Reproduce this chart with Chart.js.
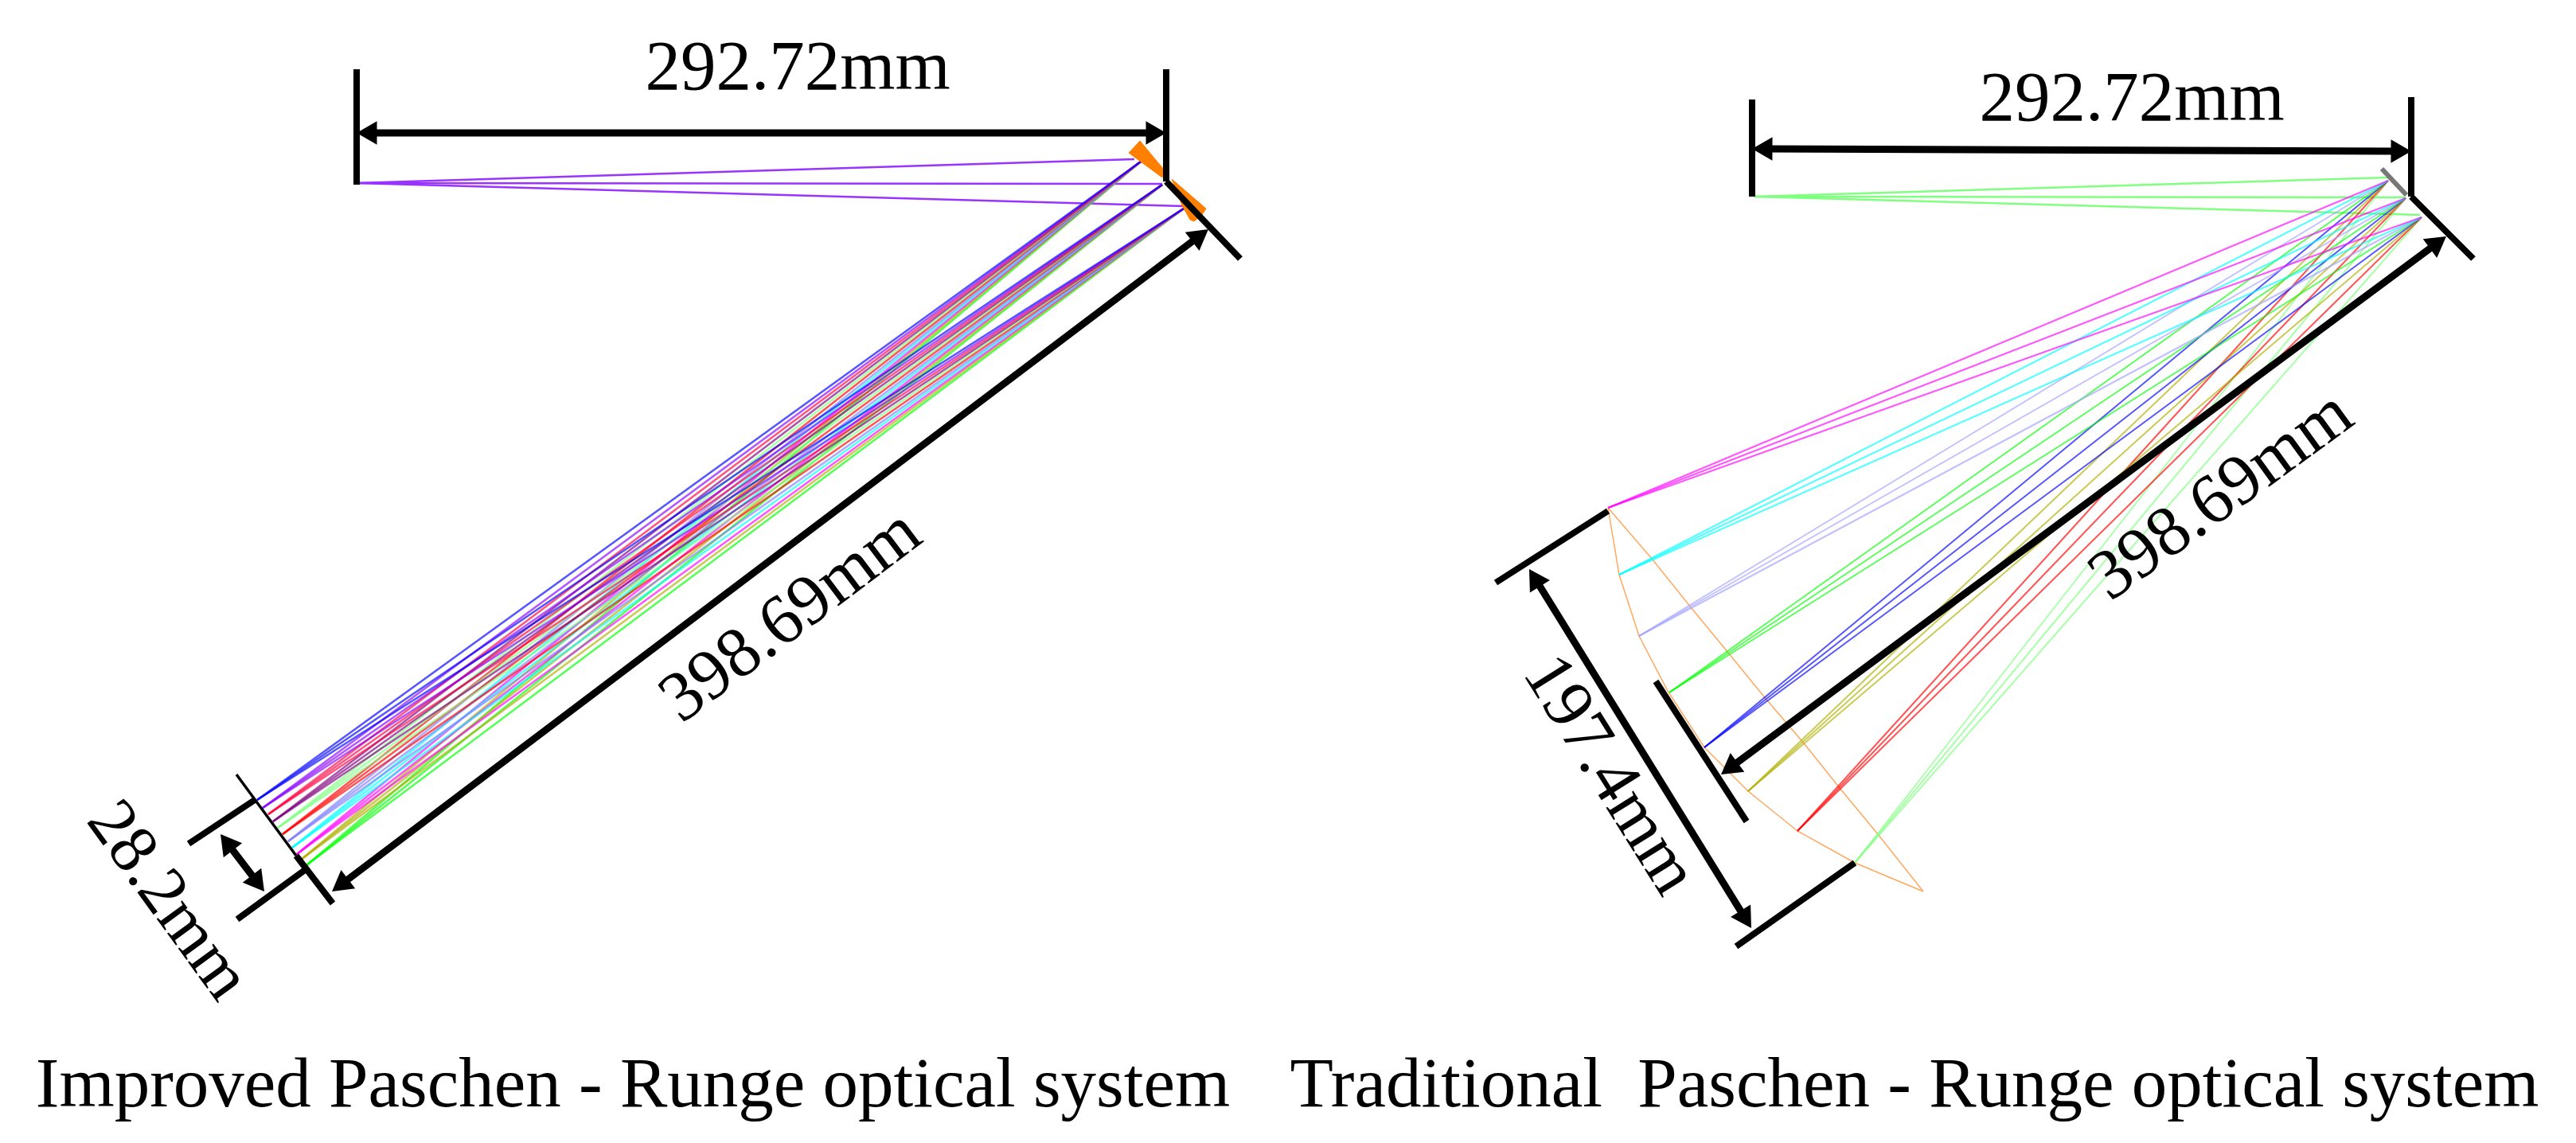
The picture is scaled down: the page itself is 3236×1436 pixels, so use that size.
<!DOCTYPE html>
<html>
<head>
<meta charset="utf-8">
<title>Paschen-Runge optical systems</title>
<script src="https://cdn.jsdelivr.net/npm/chart.js@4"></script>
<style>
  html, body { margin: 0; padding: 0; background: #fff; }
  canvas { display: block; }
</style>
</head>
<body>
<canvas id="chart" width="3236" height="1436"></canvas>
<script>
// Axis range, the picture is drawn in image coordinates
const xRange = [0, 3236];
const yRange = [0, 1436];

// Improved system: rays
const improvedSource = [[448, 230]];
const improvedGrating = [[1425, 200], [1460, 231], [1487, 259]];
const improvedOutTips = [[1433, 203], [1460, 232], [1487, 262]];
const improvedDetector = [
    [323, 1005], [330, 1015], [337, 1023], [343, 1032], [349, 1040], [355, 1048],
    [362, 1057], [367, 1065], [373, 1073], [378, 1080], [385, 1087]
];

// Traditional system: rays
const tradSource = [[2204, 247]];
const tradGrating = [[3000, 223], [3022, 248], [3040, 270]];
const tradOutTips = [[3000, 227], [3022, 249], [3042, 273]];
const tradDetector = [
    [2020, 638], [2034, 722], [2059, 799], [2097, 870],
    [2141, 939], [2196, 994], [2258, 1044], [2330, 1084]
];

// Traditional system: detector curve outline
const tradCurveOuter = [
    [2020, 638], [2034, 722], [2059, 799], [2095, 868], [2141, 939],
    [2196, 994], [2258, 1044], [2330, 1084], [2416, 1120]
];
const tradCurveInner = [
    [2020, 638], [2076, 703], [2124, 763], [2171, 820], [2215, 874],
    [2267, 935], [2311, 990], [2359, 1048], [2416, 1120]
];

// Black bars
const bars = [
    [[448, 87], [448, 232]], [[1465, 87], [1465, 228]], [[1465, 228], [1558, 325]],
    [[237, 1060], [320, 1005]], [[298, 1155], [383, 1093]], [[372, 1075], [418, 1135]],
    [[2201, 125], [2201, 247]], [[3029, 122], [3029, 247]], [[3029, 247], [3107, 325]],
    [[2080, 856], [2194, 1032]], [[1879, 732], [2020, 642]], [[2181, 1189], [2330, 1084]]
];
const thinBars = [[[297, 973], [372, 1075]]];

// Double headed dimension arrows
const arrows = [
    [[448, 167], [1465, 167]],
    [[277, 1048], [332, 1120]],
    [[417, 1120], [1518, 288]],
    [[2201, 187], [3029, 190]],
    [[2162, 973], [3073, 297]],
    [[1921, 715], [2200, 1166]]
];

// Orange and grey grating pieces
const orangeWedge = [[1418, 192], [1432, 177], [1462, 213], [1460, 223]];
const orangeStrip = [[1472, 225], [1515, 262], [1510, 270], [1500, 278], [1495, 276], [1485, 258]];
const greyGrating = [[2992, 212], [3023, 245]];

// Labels
const labelTexts = ['292.72mm', '398.69mm', '28.2mm', '292.72mm', '398.69mm', '197.4mm',
    'Improved Paschen - Runge optical system', 'Traditional  Paschen - Runge optical system'];
const labelX = [1002, 995, 209, 2678, 2792, 2020, 795, 2405];
const labelY = [89, 776, 1133, 128, 625, 975, 1367, 1367];
const labelAngles = [0, -37, 54, 0, -36, 58, 0, 0];
const labelSizes = [89, 89, 86, 89, 89, 88, 89, 89];

const improvedColors = ['#0000ff', '#8800ff', '#ff0040', '#800080', '#80ff80', '#ff0000',
    '#8080ff', '#00ffff', '#ff00ff', '#b0b000', '#00ff00'];
const tradColors = ['#ff00ff', '#00ffff', '#a0a0ff', '#00ff00', '#0000ff', '#b0b000', '#ff0000', '#80ff80'];

const toPoints = pts => pts.map(p => ({ x: p[0], y: p[1] }));

function lineSet(pts, color, width, order) {
    return {
        data: toPoints(pts),
        borderColor: color,
        borderWidth: width,
        pointRadius: 0,
        showLine: true,
        fill: false,
        tension: 0,
        order: order
    };
}

function raySets(tips, ends, colors, width, alpha) {
    const sets = [];
    ends.forEach((e, i) => tips.forEach(t => {
        sets.push(lineSet([t, e], colors[i] + alpha, width, 4));
    }));
    return sets;
}

// Shaft stops at the head centre so the triangle tip lands on the end value
function arrowSet(arrow) {
    const [a, b] = arrow;
    const len = Math.hypot(b[0] - a[0], b[1] - a[1]);
    const r = 17;
    const ux = (b[0] - a[0]) / len;
    const uy = (b[1] - a[1]) / len;
    const pts = [[a[0] + ux * r, a[1] + uy * r], [b[0] - ux * r, b[1] - uy * r]];
    const toEnd = Math.atan2(ux, -uy) * 180 / Math.PI;
    const set = lineSet(pts, '#000', 9, 1);
    set.pointRadius = r;
    set.pointStyle = 'triangle';
    set.pointBackgroundColor = '#000';
    set.pointBorderColor = '#000';
    set.pointBorderWidth = 0;
    set.pointRotation = [toEnd + 180, toEnd];
    return set;
}

function polySet(pts, color) {
    const set = lineSet(pts.concat([pts[0]]), color, 1, 3);
    set.fill = 'shape';
    set.backgroundColor = color;
    return set;
}

const datasets = [].concat(
    raySets(improvedOutTips, improvedDetector, improvedColors, 2.6, 'aa'),
    raySets(tradOutTips, tradDetector, tradColors, 2, 'aa'),
    improvedGrating.map(g => lineSet([improvedSource[0], g], '#9933ff', 2.5, 4)),
    tradGrating.map(g => lineSet([tradSource[0], g], '#80ff80', 2.5, 4)),
    [lineSet(tradCurveOuter, '#ffa860', 1.5, 4), lineSet(tradCurveInner, '#ffa860', 1.5, 4)],
    [polySet(orangeWedge, '#ff8000'), polySet(orangeStrip, '#ff8000')],
    [lineSet(greyGrating, '#777777', 6, 2)],
    bars.map(b => lineSet(b, '#000', 8, 1)),
    thinBars.map(b => lineSet(b, '#000', 3.5, 1)),
    arrows.map(arrowSet)
);

// Text goes through the same scales as the marks
const labelPlugin = {
    id: 'labels',
    afterDatasetsDraw(chart) {
        const ctx = chart.ctx;
        labelTexts.forEach((text, i) => {
            ctx.save();
            ctx.translate(chart.scales.x.getPixelForValue(labelX[i]), chart.scales.y.getPixelForValue(labelY[i]));
            ctx.rotate(labelAngles[i] * Math.PI / 180);
            ctx.font = labelSizes[i] + 'px "Liberation Serif"';
            ctx.fillStyle = '#000';
            ctx.textAlign = 'center';
            ctx.textBaseline = 'middle';
            ctx.fillText(text, 0, 0);
            ctx.restore();
        });
    }
};

new Chart(document.getElementById('chart').getContext('2d'), {
    type: 'scatter',
    data: { datasets: datasets },
    options: {
        responsive: false,
        animation: false,
        devicePixelRatio: 1,
        layout: { padding: 0, autoPadding: false },
        plugins: { legend: { display: false }, tooltip: { enabled: false }, title: { display: false } },
        scales: {
            x: { type: 'linear', display: false, min: xRange[0], max: xRange[1] },
            y: { type: 'linear', display: false, reverse: true, min: yRange[0], max: yRange[1] }
        }
    },
    plugins: [labelPlugin]
});
</script>
</body>
</html>
